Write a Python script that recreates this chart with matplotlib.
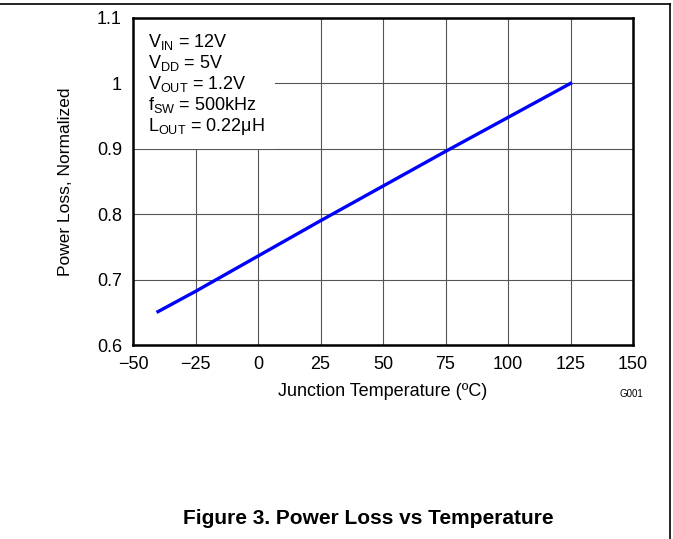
import matplotlib.pyplot as plt
from matplotlib.patches import Rectangle

plt.rcParams['font.family'] = ['Liberation Sans', 'DejaVu Sans']
plt.rcParams['mathtext.fontset'] = 'custom'
plt.rcParams['mathtext.rm'] = 'Liberation Sans'
plt.rcParams['mathtext.it'] = 'Liberation Sans'

# data
temp = [-40, -25, 0, 25, 50, 75, 100, 125]
loss = [0.651, 0.682, 0.736, 0.790, 0.843, 0.896, 0.948, 1.0]

xticks = [-50, -25, 0, 25, 50, 75, 100, 125, 150]
xtick_labels = ['\u221250', '\u221225', '0', '25', '50', '75', '100', '125', '150']
yticks = [0.6, 0.7, 0.8, 0.9, 1.0, 1.1]
ytick_labels = ['0.6', '0.7', '0.8', '0.9', '1', '1.1']

conditions = [
    r'V$_{\mathrm{IN}}$ = 12V',
    r'V$_{\mathrm{DD}}$ = 5V',
    r'V$_{\mathrm{OUT}}$ = 1.2V',
    r'f$_{\mathrm{SW}}$ = 500kHz',
    r'L$_{\mathrm{OUT}}$ = 0.22$\mathrm{\mu}$H',
]

fig = plt.figure(figsize=(6.73, 5.39), dpi=100)
ax = fig.add_axes([133 / 673, 1 - 345 / 539, 500 / 673, 327 / 539])

ax.plot(temp, loss, color='#0000ff', linewidth=2.4, zorder=4)

ax.set_xlim(-50, 150)
ax.set_ylim(0.6, 1.1)
ax.set_xticks(xticks)
ax.set_xticklabels(xtick_labels)
ax.set_yticks(yticks)
ax.set_yticklabels(ytick_labels)
ax.tick_params(length=0, labelsize=13)
ax.tick_params(axis='x', pad=8)
ax.tick_params(axis='y', pad=8)
ax.grid(True, color='#555555', linewidth=0.8)
ax.set_axisbelow(True)
for s in ax.spines.values():
    s.set_linewidth(1.8)
    s.set_zorder(5)

# white box behind the test conditions
ax.add_patch(Rectangle((0, 0.6), 0.284, 0.4, transform=ax.transAxes,
                       facecolor='white', edgecolor='none', zorder=2))
for i, t in enumerate(conditions):
    ax.text(0.03, 0.928 - i * 0.065, t, transform=ax.transAxes,
            fontsize=13, va='center', ha='left', zorder=3)

ax.set_xlabel('Junction Temperature (\u00baC)', fontsize=13, labelpad=7)
ax.set_ylabel('Power Loss, Normalized', fontsize=12.5, labelpad=17)

fig.text(631 / 673, 1 - 394 / 539, 'G001', fontsize=7, ha='center', va='center')
fig.text(368 / 673, 1 - 518 / 539, 'Figure 3. Power Loss vs Temperature',
         fontsize=15, fontweight='bold', ha='center', va='center')

# page border lines
fig.add_artist(plt.Line2D([0, 670 / 673], [1 - 4 / 539, 1 - 4 / 539], color='black', linewidth=1.2))
fig.add_artist(plt.Line2D([670 / 673, 670 / 673], [0, 1 - 4 / 539], color='black', linewidth=1.2))

fig.savefig('out.png', dpi=100)
